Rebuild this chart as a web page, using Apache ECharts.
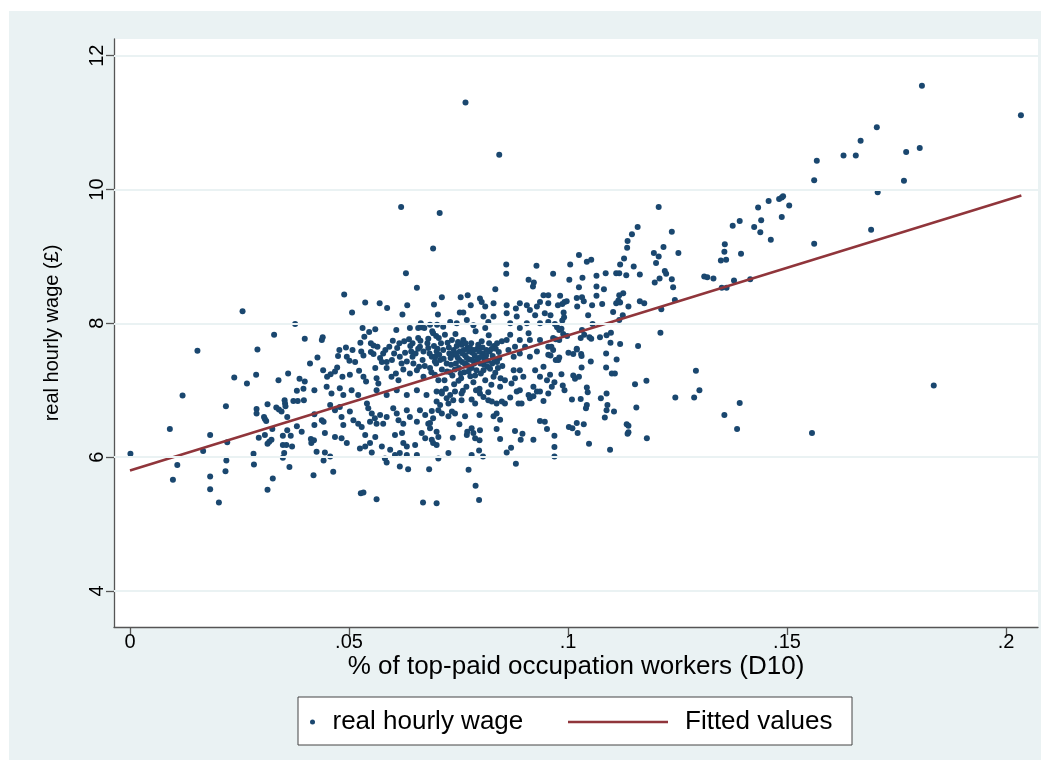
<!DOCTYPE html>
<html>
<head>
<meta charset="utf-8">
<title>real hourly wage vs top-paid occupation share</title>
<script src="https://cdn.jsdelivr.net/npm/echarts@6/dist/echarts.min.js"></script>
<style>
  html, body { margin: 0; padding: 0; background: #fff; }
  #main { position: absolute; left: 9px; top: 11px; width: 1032px; height: 749px; }
</style>
</head>
<body>
<div id="main"></div>
<script>
// tick values and their Stata-style labels
var xTicks = [0, 0.05, 0.1, 0.15, 0.2];
var xTickLabels = ['0', '.05', '.1', '.15', '.2'];
var yTicks = [4, 6, 8, 10, 12];
var yTickLabels = ['4', '6', '8', '10', '12'];

// fitted values: end points of the regression line
var fitX = [0, 0.2035];
var fitY = [5.80, 9.91];

// [share of top-paid occupation workers, real hourly wage]
var wagePoints = [
  // low share
  [0.0257,8.18],[0.0377,7.99],[0.0329,7.83],[0.0399,7.77],[0.0154,7.59],[0.0291,7.61],[0.0411,7.40],[0.0361,7.25],
  [0.0238,7.19],[0.0288,7.23],[0.0339,7.15],[0.0387,7.17],[0.0399,7.13],[0.0267,7.10],[0.0396,7.02],[0.0381,6.99],
  [0.0421,7.00],[0.0120,6.92],[0.0219,6.76],[0.0314,6.79],[0.0353,6.85],[0.0354,6.80],[0.0355,6.76],[0.0373,6.84],
  [0.0383,6.84],[0.0397,6.85],[0.0334,6.74],[0.0340,6.71],[0.0346,6.68],[0.0289,6.72],[0.0289,6.65],[0.0306,6.60],
  [0.0308,6.57],[0.0311,6.54],[0.0359,6.60],[0.0421,6.64],[0.0091,6.42],[0.0325,6.42],[0.0381,6.46],[0.0421,6.48],
  [0.0359,6.40],[0.0392,6.38],[0.0183,6.33],[0.0308,6.33],[0.0349,6.32],[0.0367,6.32],[0.0294,6.29],[0.0413,6.27],
  [0.0414,6.21],[0.0420,6.25],[0.0222,6.22],[0.0314,6.20],[0.0318,6.23],[0.0323,6.26],[0.0349,6.18],[0.0357,6.18],
  [0.0370,6.16],[0.0167,6.09],[0.0001,6.05],[0.0282,6.05],[0.0352,6.06],[0.0349,5.99],[0.0220,5.95],[0.0108,5.88],
  [0.0283,5.89],[0.0364,5.85],[0.0218,5.79],[0.0183,5.71],[0.0419,5.73],[0.0098,5.66],[0.0326,5.68],[0.0183,5.52],
  [0.0314,5.51],[0.0203,5.32],
  // upper outliers around .05-.1
  [0.0692,9.12],[0.0630,8.75],[0.0655,8.53],[0.0489,8.43],[0.0537,8.31],[0.0570,8.30],[0.0587,8.23],[0.0633,8.27],
  [0.0694,8.28],[0.0766,11.30],[0.0843,10.52],[0.0619,9.74],[0.0707,9.65],[0.0859,8.88],[0.0859,8.74],[0.0928,8.86],
  [0.0910,8.65],[0.0922,8.61],[0.0920,8.55],[0.0966,8.74],[0.1005,8.88],[0.1003,8.65],[0.1025,9.02],[0.1025,8.54],
  [0.0834,8.51],
  // .04-.07, upper half
  [0.0622,8.13],[0.0703,8.13],[0.0507,8.16],[0.0531,7.93],[0.0546,7.87],[0.0560,7.91],[0.0608,7.90],[0.0639,7.93],
  [0.0664,8.00],[0.0658,7.93],[0.0665,7.94],[0.0672,7.93],[0.0685,7.98],[0.0701,7.98],[0.0440,7.79],[0.0438,7.75],
  [0.0535,7.80],[0.0526,7.71],[0.0550,7.70],[0.0556,7.67],[0.0600,7.74],[0.0615,7.70],[0.0626,7.73],[0.0637,7.76],
  [0.0645,7.70],[0.0658,7.78],[0.0663,7.74],[0.0681,7.77],[0.0692,7.85],[0.0699,7.81],[0.0478,7.60],[0.0475,7.51],
  [0.0493,7.64],[0.0508,7.60],[0.0428,7.49],[0.0495,7.50],[0.0501,7.44],[0.0514,7.42],[0.0528,7.58],[0.0533,7.52],
  [0.0550,7.57],[0.0556,7.54],[0.0583,7.60],[0.0571,7.48],[0.0575,7.42],[0.0586,7.42],[0.0603,7.55],[0.0610,7.63],
  [0.0616,7.50],[0.0628,7.56],[0.0642,7.58],[0.0632,7.43],[0.0647,7.40],[0.0662,7.65],[0.0670,7.58],[0.0681,7.63],
  [0.0689,7.50],[0.0700,7.58],[0.0696,7.43],[0.0441,7.30],[0.0450,7.20],[0.0458,7.24],[0.0468,7.28],[0.0473,7.34],
  [0.0485,7.20],[0.0502,7.23],[0.0523,7.29],[0.0533,7.20],[0.0539,7.13],[0.0560,7.33],[0.0563,7.18],[0.0567,7.10],
  [0.0586,7.33],[0.0597,7.20],[0.0607,7.25],[0.0613,7.15],[0.0624,7.31],[0.0639,7.25],[0.0655,7.30],[0.0670,7.20],
  [0.0685,7.33],[0.0696,7.23],[0.0704,7.15],[0.0449,7.05],[0.0460,6.95],[0.0479,7.03],[0.0487,6.93],[0.0506,7.00],
  [0.0521,6.93],[0.0563,7.00],[0.0586,6.93],[0.0609,7.00],[0.0632,6.93],[0.0655,7.00],[0.0677,6.93],[0.0700,6.98],
  // .04-.07, lower half
  [0.0438,6.55],[0.0442,6.53],[0.0457,6.78],[0.0468,6.70],[0.0479,6.75],[0.0483,6.60],[0.0487,6.48],[0.0502,6.68],
  [0.0510,6.55],[0.0521,6.50],[0.0529,6.45],[0.0541,6.80],[0.0544,6.73],[0.0552,6.65],[0.0548,6.53],[0.0559,6.58],
  [0.0563,6.50],[0.0571,6.63],[0.0578,6.50],[0.0586,6.60],[0.0601,6.73],[0.0609,6.65],[0.0613,6.55],[0.0624,6.50],
  [0.0632,6.70],[0.0639,6.60],[0.0655,6.53],[0.0662,6.70],[0.0674,6.63],[0.0681,6.50],[0.0692,6.58],[0.0704,6.70],
  [0.0445,6.36],[0.0468,6.30],[0.0483,6.28],[0.0495,6.21],[0.0537,6.33],[0.0560,6.30],[0.0548,6.21],[0.0537,6.16],
  [0.0525,6.13],[0.0552,6.07],[0.0575,6.16],[0.0594,6.11],[0.0605,6.33],[0.0621,6.36],[0.0624,6.21],[0.0632,6.16],
  [0.0616,6.06],[0.0632,6.03],[0.0651,6.18],[0.0655,6.03],[0.0666,6.36],[0.0674,6.28],[0.0685,6.43],[0.0689,6.26],
  [0.0700,6.18],[0.0704,5.98],[0.0426,6.08],[0.0445,6.07],[0.0457,6.01],[0.0442,5.95],[0.0582,5.98],[0.0586,5.92],
  [0.0605,6.03],[0.0616,5.86],[0.0635,5.82],[0.0683,5.82],[0.0464,5.78],[0.0527,5.46],[0.0533,5.47],[0.0563,5.37],
  [0.0669,5.32],[0.0700,5.31],
  // .07-.1, upper part
  [0.0712,8.39],[0.0755,8.39],[0.0771,8.42],[0.0799,8.37],[0.0803,8.32],[0.0778,8.27],[0.0811,8.25],[0.0830,8.30],
  [0.0860,8.27],[0.0881,8.22],[0.0890,8.30],[0.0906,8.27],[0.0913,8.20],[0.0929,8.25],[0.0944,8.42],[0.0955,8.42],
  [0.0936,8.32],[0.0955,8.30],[0.0753,8.16],[0.0761,8.16],[0.0731,8.02],[0.0715,7.95],[0.0746,8.00],[0.0769,8.05],
  [0.0784,7.97],[0.0807,8.10],[0.0818,8.02],[0.0830,8.10],[0.0811,7.93],[0.0860,8.15],[0.0868,8.00],[0.0883,8.10],
  [0.0890,7.93],[0.0906,8.00],[0.0925,8.12],[0.0936,8.00],[0.0947,8.15],[0.0955,8.02],
  // .065-.085, dense core
  [0.0690,7.88],[0.0702,7.62],[0.0708,7.45],[0.0712,7.31],[0.0718,7.15],[0.0721,7.02],[0.0725,7.71],[0.0729,7.55],
  [0.0733,7.38],[0.0736,7.22],[0.0740,7.09],[0.0743,7.84],[0.0746,7.66],[0.0748,7.49],[0.0751,7.33],[0.0753,7.58],
  [0.0756,7.18],[0.0758,7.42],[0.0761,7.75],[0.0763,7.27],[0.0765,7.52],[0.0768,7.05],[0.0770,7.63],[0.0772,7.36],
  [0.0775,7.46],[0.0777,7.21],[0.0779,7.70],[0.0782,7.56],[0.0784,7.12],[0.0786,7.40],[0.0789,7.88],[0.0791,7.30],
  [0.0793,7.62],[0.0796,7.48],[0.0798,7.02],[0.0801,7.25],[0.0803,7.73],[0.0806,7.55],[0.0808,7.38],[0.0811,7.15],
  [0.0814,7.60],[0.0817,7.44],[0.0819,7.82],[0.0822,7.32],[0.0825,7.08],[0.0828,7.51],[0.0831,7.66],[0.0834,7.26],
  [0.0838,7.42],[0.0842,7.57],[0.0846,7.18],[0.0850,7.36],[0.0697,7.50],[0.0705,7.78],[0.0715,7.60],[0.0723,7.40],
  [0.0731,7.27],[0.0738,7.53],[0.0744,7.40],[0.0750,7.14],[0.0757,7.68],[0.0762,7.60],[0.0767,7.39],[0.0774,7.58],
  [0.0780,7.33],[0.0787,7.52],[0.0795,7.68],[0.0800,7.40],[0.0807,7.30],[0.0813,7.52],[0.0820,7.70],[0.0827,7.40],
  [0.0835,7.62],[0.0843,7.48],[0.0712,6.98],[0.0760,6.99],[0.0790,7.00],[0.0818,6.97],
  [0.0668,7.45],[0.0673,7.36],[0.0679,7.70],[0.0684,7.55],[0.0688,7.27],[0.0694,7.66],[0.0699,7.40],[0.0706,7.53],
  [0.0710,7.70],[0.0716,7.47],[0.0719,7.83],[0.0724,7.28],[0.0728,7.64],[0.0732,7.48],[0.0735,7.75],[0.0739,7.60],
  [0.0742,7.31],[0.0745,7.55],[0.0749,7.72],[0.0752,7.45],[0.0755,7.25],[0.0759,7.55],[0.0764,7.40],[0.0766,7.70],
  [0.0769,7.48],[0.0773,7.28],[0.0776,7.64],[0.0781,7.45],[0.0785,7.60],[0.0788,7.22],[0.0792,7.45],[0.0797,7.58],
  [0.0802,7.50],[0.0805,7.64],[0.0810,7.45],[0.0816,7.35],[0.0821,7.58],[0.0826,7.62],[0.0832,7.46],[0.0840,7.33],
  [0.0652,7.55],[0.0658,7.62],[0.0645,7.50],[0.0660,7.35],[0.0640,7.66],[0.0620,7.40],[0.0598,7.45],[0.0592,7.65],
  [0.0578,7.55],[0.0565,7.65],
  // .083-.097, middle
  [0.0838,7.70],[0.0849,7.73],[0.0868,7.83],[0.0879,7.65],[0.0890,7.75],[0.0902,7.65],[0.0913,7.75],[0.0910,7.85],
  [0.0936,7.75],[0.0955,7.65],[0.0955,7.53],[0.0929,7.58],[0.0913,7.50],[0.0890,7.55],[0.0876,7.50],[0.0864,7.60],
  [0.0876,7.30],[0.0890,7.30],[0.0879,7.18],[0.0898,7.20],[0.0925,7.30],[0.0944,7.35],[0.0959,7.23],[0.0952,7.15],
  [0.0936,7.20],[0.0921,7.05],[0.0929,6.98],[0.0963,7.05],[0.0871,7.10],[0.0890,7.00],[0.0856,7.15],[0.0845,7.05],
  [0.0830,7.20],[0.0978,7.45],[0.0860,7.75],
  // .07-.097, below 7
  [0.0712,6.95],[0.0723,6.88],[0.0731,6.93],[0.0742,6.98],[0.0757,6.95],[0.0700,6.83],[0.0708,6.78],[0.0727,6.80],
  [0.0738,6.85],[0.0757,6.85],[0.0780,6.86],[0.0788,6.80],[0.0799,6.95],[0.0807,6.90],[0.0818,6.85],[0.0826,6.83],
  [0.0837,6.80],[0.0849,6.83],[0.0856,6.80],[0.0868,6.89],[0.0883,6.98],[0.0887,6.80],[0.0894,6.80],[0.0910,6.93],
  [0.0913,6.88],[0.0921,6.91],[0.0944,6.84],[0.0955,6.95],[0.0936,6.98],
  [0.0689,6.69],[0.0712,6.65],[0.0727,6.61],[0.0735,6.68],[0.0742,6.65],[0.0765,6.61],[0.0798,6.63],[0.0830,6.61],
  [0.0837,6.65],[0.0845,6.56],[0.0685,6.51],[0.0700,6.38],[0.0704,6.30],[0.0692,6.21],[0.0752,6.49],[0.0737,6.29],
  [0.0769,6.33],[0.0770,6.38],[0.0780,6.43],[0.0784,6.36],[0.0788,6.28],[0.0799,6.40],[0.0798,6.25],[0.0837,6.42],
  [0.0845,6.27],[0.0879,6.39],[0.0896,6.35],[0.0892,6.26],[0.0921,6.26],[0.0936,6.54],[0.0947,6.53],[0.0952,6.42],
  [0.0870,6.14],[0.0860,6.07],[0.0881,5.90],[0.0797,6.10],[0.0780,6.03],[0.0806,6.01],[0.0727,6.06],[0.0773,5.81],
  [0.0789,5.57],[0.0797,5.36],
  // .095-.13
  [0.1207,9.74],[0.1159,9.44],[0.1146,9.33],[0.1136,9.23],[0.1135,9.13],[0.1237,9.37],[0.1218,9.14],[0.1196,9.05],
  [0.1252,9.05],[0.1207,9.00],[0.1201,8.90],[0.1043,8.92],[0.1053,8.95],[0.1128,8.97],[0.1119,8.88],[0.1150,8.85],
  [0.1221,8.78],[0.1224,8.74],[0.1033,8.68],[0.1065,8.71],[0.1086,8.75],[0.1110,8.75],[0.1117,8.75],[0.1133,8.72],
  [0.1164,8.73],[0.1209,8.67],[0.1198,8.61],[0.1237,8.66],[0.1240,8.54],[0.1065,8.55],[0.1082,8.51],[0.1126,8.45],
  [0.1117,8.42],[0.0982,8.41],[0.1020,8.38],[0.1032,8.39],[0.1036,8.33],[0.1065,8.41],[0.1115,8.34],[0.1119,8.31],
  [0.0992,8.32],[0.0997,8.33],[0.0987,8.29],[0.0977,8.27],[0.1021,8.25],[0.1055,8.27],[0.1078,8.29],[0.1110,8.30],
  [0.1138,8.25],[0.1164,8.33],[0.1174,8.30],[0.1213,8.21],[0.1244,8.35],[0.0960,8.12],[0.0990,8.16],[0.0991,8.09],
  [0.0987,8.04],[0.1046,8.12],[0.1103,8.17],[0.1125,8.12],[0.1117,8.05],[0.0970,7.99],[0.0975,7.94],[0.0985,7.92],
  [0.0980,7.90],[0.1056,7.99],[0.1032,7.90],[0.1211,7.86],[0.0989,7.84],[0.0998,7.81],[0.0966,7.78],[0.0972,7.76],
  [0.0980,7.75],[0.1037,7.83],[0.1029,7.78],[0.1049,7.79],[0.1053,7.77],[0.1073,7.79],[0.1088,7.82],[0.1098,7.86],
  [0.1097,7.71],[0.1119,7.69],[0.1160,7.66],[0.1020,7.62],
  [0.1001,7.56],[0.1012,7.54],[0.1020,7.61],[0.1030,7.54],[0.1031,7.51],[0.1087,7.55],[0.0980,7.49],[0.1052,7.43],
  [0.1111,7.46],[0.1087,7.34],[0.1031,7.34],[0.1100,7.25],[0.1107,7.25],[0.0985,7.24],[0.1012,7.22],[0.1016,7.17],
  [0.1025,7.20],[0.1292,7.29],[0.1179,7.14],[0.1153,7.09],[0.0969,7.12],[0.0988,7.07],[0.0992,7.00],[0.1043,7.04],
  [0.1045,6.97],[0.1088,6.95],[0.1075,6.88],[0.1009,6.86],[0.1029,6.87],[0.1245,6.89],[0.1288,6.89],[0.1300,7.00],
  [0.1090,6.78],[0.1088,6.70],[0.1043,6.78],[0.1041,6.73],[0.1105,6.68],[0.1156,6.74],[0.1084,6.59],[0.1020,6.51],
  [0.1036,6.49],[0.1002,6.45],[0.1010,6.43],[0.1022,6.36],[0.1134,6.49],[0.1138,6.47],[0.1138,6.37],[0.1136,6.35],
  [0.0969,6.32],[0.1180,6.28],[0.1048,6.20],[0.0969,6.15],[0.1096,6.11],[0.0969,6.01],
  [0.0962,7.65],[0.0966,7.60],[0.0960,7.52],[0.0972,7.45],
  // high share
  [0.1808,11.55],[0.2034,11.11],[0.1705,10.93],[0.1668,10.73],[0.1629,10.51],[0.1657,10.51],[0.1772,10.56],[0.1803,10.62],
  [0.1568,10.43],[0.1562,10.14],[0.1767,10.13],[0.1707,9.96],[0.1458,9.83],[0.1482,9.86],[0.1488,9.88],[0.1491,9.90],
  [0.1434,9.73],[0.1505,9.76],[0.1441,9.54],[0.1392,9.53],[0.1376,9.46],[0.1425,9.44],[0.1439,9.36],[0.1488,9.59],
  [0.1463,9.25],[0.1358,9.18],[0.1357,9.07],[0.1361,8.95],[0.1349,8.94],[0.1395,9.04],[0.1562,9.19],[0.1692,9.40],
  [0.1311,8.70],[0.1318,8.69],[0.1332,8.67],[0.1379,8.64],[0.1416,8.66],[0.1351,8.53],[0.1362,8.53],[0.1392,6.81],
  [0.1357,6.63],[0.1386,6.42],[0.1557,6.36],[0.1835,7.07]
];

var fitData = fitX.map(function (x, i) { return [x, fitY[i]]; });

var font = "'Liberation Sans', Arial, sans-serif";

function xLabel(v) {
  for (var i = 0; i < xTicks.length; i++) {
    if (Math.abs(xTicks[i] - v) < 1e-9) return xTickLabels[i];
  }
  return '';
}
function yLabel(v) {
  for (var i = 0; i < yTicks.length; i++) {
    if (Math.abs(yTicks[i] - v) < 1e-9) return yTickLabels[i];
  }
  return '';
}

var chart = echarts.init(document.getElementById('main'), null, { renderer: 'canvas' });

chart.setOption({
  backgroundColor: '#EAF2F3',
  animation: false,
  textStyle: { fontFamily: font, color: '#000' },
  grid: {
    left: 105, top: 28, right: 3, bottom: 133,
    show: true, backgroundColor: '#fff', borderWidth: 0
  },
  xAxis: {
    type: 'value',
    min: -0.00365, max: 0.2073,
    name: '% of top-paid occupation workers (D10)',
    nameLocation: 'middle', nameGap: 27, nameMoveOverlap: false,
    nameTextStyle: { fontSize: 26, fontFamily: font, color: '#000' },
    axisLine: { show: true, onZero: false, lineStyle: { color: '#555', width: 1.3 } },
    axisTick: { show: true, length: 8, customValues: xTicks, lineStyle: { color: '#555', width: 1.3 } },
    axisLabel: { customValues: xTicks, formatter: xLabel, fontSize: 20, margin: 5, color: '#000', fontFamily: font },
    splitLine: { show: false }
  },
  yAxis: {
    type: 'value',
    min: 3.46, max: 12.25,
    name: 'real hourly wage (£)',
    nameLocation: 'middle', nameGap: 52, nameRotate: 90, nameMoveOverlap: false,
    nameTextStyle: { fontSize: 20, fontFamily: font, color: '#000' },
    axisLine: { show: true, onZero: false, lineStyle: { color: '#555', width: 1.3 } },
    axisTick: { show: true, length: 8, customValues: yTicks, lineStyle: { color: '#555', width: 1.3 } },
    axisLabel: { customValues: yTicks, formatter: yLabel, rotate: 90, fontSize: 20, margin: 7, color: '#000', fontFamily: font },
    splitLine: { show: false }
  },
  graphic: [{
    type: 'rect', z: 1,
    shape: { x: 289, y: 686, width: 554, height: 48 },
    style: { fill: '#fff', stroke: '#444', lineWidth: 1 }
  }],
  legend: [{
    z: 10,
    data: ['real hourly wage'],
    left: 301, top: 698, padding: 0,
    icon: 'circle',
    itemWidth: 30, itemHeight: 5,
    textStyle: { fontSize: 26, fontFamily: font, color: '#000' }
  }, {
    z: 10,
    data: ['Fitted values'],
    left: 559, top: 698, padding: 0,
    icon: 'rect',
    itemWidth: 100, itemHeight: 2.5,
    textStyle: { fontSize: 26, fontFamily: font, color: '#000', padding: [0, 0, 0, 12] }
  }],
  series: [{
    name: 'grid',
    type: 'line',
    data: [],
    z: 1,
    silent: true,
    markLine: {
      silent: true, symbol: 'none', label: { show: false },
      lineStyle: { color: '#EAF2F3', width: 2, type: 'solid' },
      data: yTicks.map(function (v) { return { yAxis: v }; })
    }
  }, {
    name: 'real hourly wage',
    type: 'scatter',
    z: 3,
    symbol: 'circle',
    symbolSize: 6,
    itemStyle: { color: '#1A476F', opacity: 1 },
    data: wagePoints
  }, {
    name: 'Fitted values',
    type: 'line',
    z: 4,
    showSymbol: false,
    symbol: 'none',
    lineStyle: { color: '#90353B', width: 2.5 },
    itemStyle: { color: '#90353B' },
    data: fitData
  }]
});
</script>
</body>
</html>
